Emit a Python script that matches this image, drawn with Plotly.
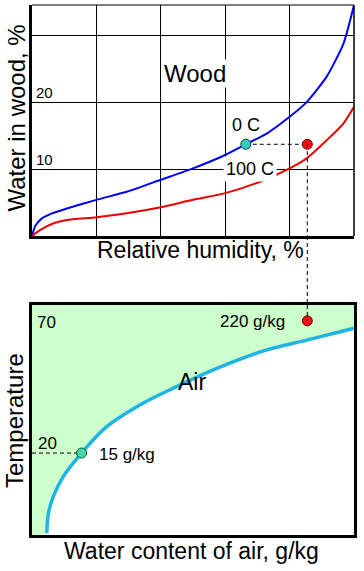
import plotly.graph_objects as go

# ---------------- data ----------------
# Top panel: water in wood (%) vs relative humidity (%)
rh_0c = [0, 1.0, 3.0, 6.0, 10.8, 20, 29.4, 40, 50, 60, 66.4, 72.9, 80, 85.3, 91.5, 96.7, 100]
wood_0c = [0, 1.5, 2.6, 3.35, 4.1, 5.4, 6.6, 8.4, 10.1, 12.1, 13.7, 15.3, 17.8, 20.0, 23.8, 28.7, 34.5]

rh_100c = [0, 2.6, 6.7, 10.8, 20, 29.4, 40, 50, 60, 70.8, 80, 85.3, 91.5, 96.7, 100]
wood_100c = [0, 0.9, 1.9, 2.4, 2.8, 3.4, 4.3, 5.4, 6.4, 8.1, 10.1, 11.6, 14.3, 16.8, 19.3]

rh_range = [0, 100]
wood_range = [0, 34.5]
wood_grid_x = [20, 40, 60, 80]
wood_grid_y = [10, 20, 30]
wood_tick_labels = {10: "10", 20: "20"}

# marked points (top): 0 C point and 100 C point at equal wood moisture
pt_0c = (66.4, 13.7)
pt_100c = (85.5, 13.7)

# Bottom panel: saturation curve of air (schematic water-content scale)
air_water = [4.6, 5.1, 6.6, 9.7, 15.4, 23.2, 33.5, 44.9, 57.4, 72.9, 85.3, 100]
air_temp = [-10.3, -2.8, 3.5, 11.1, 20, 30, 38.2, 45.1, 52, 59, 62.7, 67.2]
air_x_range = [0, 100]
air_t_range = [-11, 76]

pt_15 = (15.4, 20)    # 15 g/kg at 20
pt_220 = (85.5, 70)   # 220 g/kg at 70

FONT = "Liberation Sans, Arial, sans-serif"
W, H = 364, 571

def px_x(p):
    return p / W

def px_y(p):
    return (H - p) / H

fig = go.Figure()

# ---- top panel traces ----
fig.add_trace(go.Scatter(x=rh_0c, y=wood_0c, mode="lines", line=dict(color="#0000ff", width=2, shape="spline", smoothing=0.6),
                         xaxis="x", yaxis="y", hoverinfo="skip", showlegend=False))
fig.add_trace(go.Scatter(x=rh_100c, y=wood_100c, mode="lines", line=dict(color="#ee0000", width=2, shape="spline", smoothing=0.6),
                         xaxis="x", yaxis="y", hoverinfo="skip", showlegend=False))
fig.add_trace(go.Scatter(x=[pt_0c[0], pt_100c[0]], y=[pt_0c[1], pt_100c[1]], mode="lines",
                         line=dict(color="black", width=1, dash="4px,3px"), xaxis="x", yaxis="y",
                         hoverinfo="skip", showlegend=False))
fig.add_trace(go.Scatter(x=[pt_0c[0]], y=[pt_0c[1]], mode="markers",
                         marker=dict(size=10, color="#33ccbb", line=dict(color="#004444", width=1)),
                         xaxis="x", yaxis="y", hoverinfo="skip", showlegend=False))
fig.add_trace(go.Scatter(x=[pt_100c[0]], y=[pt_100c[1]], mode="markers",
                         marker=dict(size=10, color="#ee1111", line=dict(color="#770000", width=1)),
                         xaxis="x", yaxis="y", hoverinfo="skip", showlegend=False))

# ---- bottom panel traces ----
fill_x = [air_x_range[0]] + air_water + [air_x_range[1], air_x_range[0]]
fill_y = [air_t_range[0]] + air_temp + [air_t_range[1], air_t_range[1]]
fig.add_trace(go.Scatter(x=fill_x, y=fill_y, mode="lines", fill="toself", fillcolor="#ccffcc",
                         line=dict(width=0, color="#ccffcc", shape="spline", smoothing=1.0),
                         xaxis="x2", yaxis="y2", hoverinfo="skip", showlegend=False))
fig.add_trace(go.Scatter(x=air_water, y=air_temp, mode="lines",
                         line=dict(color="#1eb4e8", width=3.5, shape="spline", smoothing=1.0),
                         xaxis="x2", yaxis="y2", hoverinfo="skip", showlegend=False))
fig.add_trace(go.Scatter(x=[air_x_range[0], pt_15[0]], y=[pt_15[1], pt_15[1]], mode="lines",
                         line=dict(color="black", width=1, dash="4px,3px"), xaxis="x2", yaxis="y2",
                         hoverinfo="skip", showlegend=False))
fig.add_trace(go.Scatter(x=[pt_15[0]], y=[pt_15[1]], mode="markers",
                         marker=dict(size=10, color="#44ddaa", line=dict(color="#005533", width=1)),
                         xaxis="x2", yaxis="y2", hoverinfo="skip", showlegend=False))
fig.add_trace(go.Scatter(x=[pt_220[0]], y=[pt_220[1]], mode="markers",
                         marker=dict(size=10, color="#ee1111", line=dict(color="#770000", width=1)),
                         xaxis="x2", yaxis="y2", hoverinfo="skip", showlegend=False))

top_dom = [px_y(236), px_y(5)]
bot_dom = [px_y(535), px_y(305)]
x_dom = [px_x(32), px_x(354)]

shapes = [
    # thin top and right frame of top panel
    dict(type="line", xref="x domain", yref="y domain", x0=0, x1=1, y0=1, y1=1, line=dict(color="black", width=1)),
    dict(type="line", xref="x domain", yref="y domain", x0=1, x1=1, y0=0, y1=1, line=dict(color="black", width=1.5)),
    # vertical dashed link from 100 C point to 220 g/kg point
    dict(type="line", xref="x", yref="y", x0=pt_100c[0], x1=pt_100c[0], y0=pt_100c[1], y1=wood_range[0],
         line=dict(color="black", width=1, dash="4px,3px")),
    dict(type="line", xref="x", yref="paper", x0=pt_100c[0], x1=pt_100c[0], y0=top_dom[0], y1=bot_dom[1],
         line=dict(color="black", width=1, dash="4px,3px")),
    dict(type="line", xref="x2", yref="y2", x0=pt_220[0], x1=pt_220[0], y0=air_t_range[1], y1=pt_220[1],
         line=dict(color="black", width=1, dash="4px,3px")),
]

ann = []
def add_text(text, x, y, xref, yref, size, xanchor="center", bg=None, angle=0, pad=0):
    d = dict(text=text, x=x, y=y, xref=xref, yref=yref, showarrow=False,
             font=dict(family=FONT, size=size, color="black"), xanchor=xanchor, yanchor="middle",
             textangle=angle, borderpad=pad)
    if bg:
        d["bgcolor"] = bg
    ann.append(d)

# top panel texts
add_text("Wood", 50.6, 24.3, "x", "y", 24, bg="white")
add_text("0 C", 66.5, 16.6, "x", "y", 18)
add_text("100 C", 67.7, 10.0, "x", "y", 18, bg="white", pad=2)
for v, lab in wood_tick_labels.items():
    add_text(lab, 0.9, v + 1.5, "x", "y", 15, xanchor="left")
# bottom panel texts
add_text("70", 1.2, 69.5, "x2", "y2", 17, xanchor="left")
add_text("20", 1.5, 23.8, "x2", "y2", 17, xanchor="left")
add_text("220 g/kg", 68.6, 69.9, "x2", "y2", 17)
add_text("15 g/kg", 29.5, 19.3, "x2", "y2", 17)
add_text("Air", 49.7, 46.9, "x2", "y2", 23)
# axis titles
add_text("Water in wood, %", px_x(16), px_y(118.5), "paper", "paper", 24, angle=-90)
add_text("Relative humidity, %", px_x(200), px_y(250), "paper", "paper", 23)
add_text("Temperature", px_x(14), px_y(421), "paper", "paper", 24, angle=-90)
add_text("Water content of air, g/kg", px_x(191.5), px_y(551), "paper", "paper", 23)

fig.update_layout(
    width=W, height=H,
    margin=dict(l=0, r=0, t=0, b=0),
    paper_bgcolor="white", plot_bgcolor="white",
    showlegend=False,
    xaxis=dict(domain=x_dom, range=rh_range, anchor="y", tickvals=wood_grid_x, showticklabels=False,
               ticks="", showgrid=True, gridcolor="black", gridwidth=1, zeroline=False,
               showline=True, linecolor="black", linewidth=3),
    yaxis=dict(domain=top_dom, range=wood_range, anchor="x", tickvals=wood_grid_y, showticklabels=False,
               ticks="", showgrid=True, gridcolor="black", gridwidth=1, zeroline=False,
               showline=True, linecolor="black", linewidth=3),
    xaxis2=dict(domain=x_dom, range=air_x_range, anchor="y2", showticklabels=False, ticks="",
                showgrid=False, zeroline=False, showline=True, mirror=True, linecolor="black", linewidth=3),
    yaxis2=dict(domain=bot_dom, range=air_t_range, anchor="x2", showticklabels=False, ticks="",
                showgrid=False, zeroline=False, showline=True, mirror=True, linecolor="black", linewidth=3),
    shapes=shapes,
    annotations=ann,
)

fig.write_html("out.html", config={"displayModeBar": False},
               post_script="document.body.style.margin='0px';")
